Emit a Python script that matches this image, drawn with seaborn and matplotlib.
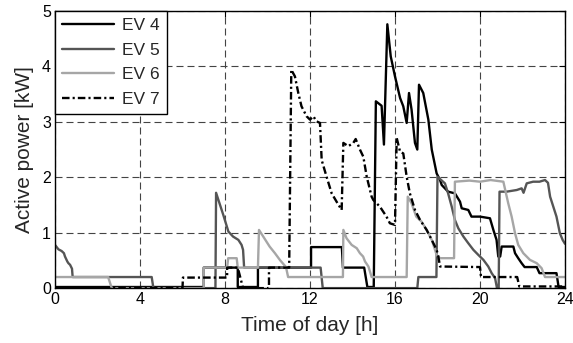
import numpy as np
import pandas as pd
import matplotlib
matplotlib.use("Agg")
import matplotlib.pyplot as plt
import seaborn as sns

# ---- data (time of day [h], active power [kW]) ----
t4 = [0, 7.0, 7.0, 8.6, 8.6, 9.55, 9.55, 12.05, 12.05, 13.5, 13.55, 14.55, 14.7, 15.0, 15.1,
      15.37, 15.48, 15.64, 15.8, 16.0, 16.24, 16.39, 16.55, 16.66, 16.78, 16.94, 17.05, 17.13,
      17.33, 17.57, 17.73, 17.96, 18.12, 18.2, 18.5, 18.82, 19.06, 19.14, 19.45, 19.6, 20.0,
      20.47, 20.63, 20.78, 20.86, 20.95, 21.02, 21.57, 21.65, 21.8, 21.96, 22.1, 22.67, 22.8,
      23.6, 23.7, 24.0]
v4 = [0.02, 0.02, 0.37, 0.37, 0.02, 0.02, 0.37, 0.37, 0.74, 0.74, 0.37, 0.37, 0.02, 0.02, 3.37,
      3.29, 2.59, 4.76, 4.18, 3.82, 3.43, 3.28, 2.98, 3.52, 3.22, 2.62, 2.50, 3.67,
      3.52, 3.04, 2.50, 2.07, 1.95, 1.86, 1.74, 1.71, 1.56, 1.44, 1.41, 1.29, 1.29,
      1.26, 1.05, 0.87, 0.57, 0.57, 0.75, 0.75, 0.63, 0.54, 0.45, 0.38, 0.38, 0.27,
      0.27, 0.02, 0.02]

t5 = [0, 0.16, 0.31, 0.42, 0.47, 0.58, 0.63, 0.71, 0.8, 0.83, 4.55, 4.63, 7.55, 7.58, 7.92,
      8.16, 8.38, 8.63, 8.78, 8.85, 8.9, 12.5, 12.6, 17.05, 17.1, 17.95, 18.0, 18.35, 18.5,
      18.67, 18.82, 18.98, 19.22, 19.45, 19.69, 19.92, 20.16, 20.39, 20.55, 20.71, 20.8, 20.88,
      20.92, 21.25, 21.73, 21.96, 22.05, 22.2, 22.5, 22.8, 23.06, 23.2, 23.3, 23.45, 23.6,
      23.76, 23.89, 24.0]
v5 = [0.78, 0.70, 0.67, 0.63, 0.57, 0.48, 0.45, 0.42, 0.35, 0.2, 0.2, 0.0, 0.0, 1.72, 1.32,
      1.02, 0.93, 0.87, 0.78, 0.69, 0.37, 0.37, 0.0, 0.0, 0.2, 0.2, 2.01, 1.89, 1.71,
      1.47, 1.23, 1.08, 0.93, 0.81, 0.69, 0.6, 0.51, 0.39, 0.27, 0.18, 0.0, 0.0,
      1.74, 1.74, 1.77, 1.8, 1.72, 1.89, 1.92, 1.92, 1.95, 1.9, 1.65, 1.47, 1.29,
      0.99, 0.87, 0.8]

t6 = [0, 2.5, 2.67, 7.0, 7.0, 8.1, 8.15, 8.55, 8.6, 9.55, 9.6, 9.8, 10.1, 10.35, 10.6, 10.87,
      10.97, 13.55, 13.57, 13.72, 13.96, 14.2, 14.35, 14.5, 14.59, 14.75, 14.9, 16.55, 16.6,
      16.78, 17.0, 17.25, 17.49, 17.73, 17.96, 18.12, 18.78, 18.82, 19.5, 20.0, 20.5, 21.1,
      21.33, 21.49, 21.65, 21.8, 22.04, 22.35, 22.67, 22.9, 23.06, 24.0]
v6 = [0.2, 0.2, 0.0, 0.0, 0.37, 0.37, 0.54, 0.54, 0.37, 0.37, 1.05, 0.93, 0.75, 0.63, 0.5, 0.38,
      0.2, 0.2, 1.05, 0.9, 0.78, 0.72, 0.63, 0.57, 0.48, 0.39, 0.2, 0.2, 1.65,
      1.53, 1.29, 1.2, 1.05, 0.87, 0.6, 0.54, 0.54, 1.92, 1.94, 1.92, 1.95, 1.92,
      1.53, 1.29, 0.99, 0.78, 0.63, 0.51, 0.45, 0.36, 0.2, 0.2]

t7 = [0, 6.0, 6.02, 8.1, 8.1, 8.6, 8.85, 10.07, 10.07, 11.02, 11.12, 11.29, 11.45, 11.6, 11.84,
      12.0, 12.16, 12.3, 12.47, 12.55, 12.78, 13.02, 13.25, 13.49, 13.57, 13.8, 14.04, 14.15,
      14.35, 14.51, 14.67, 14.9, 14.98, 15.29, 15.6, 15.76, 16.0, 16.08, 16.24, 16.39, 16.55,
      16.7, 16.94, 17.18, 17.49, 17.73, 17.96, 18.04, 18.12, 20.0, 20.05, 21.75, 21.85, 24.0]
v7 = [0, 0, 0.19, 0.19, 0.37, 0.37, 0.0, 0.0, 0.37, 0.37, 3.94, 3.82, 3.52, 3.28, 3.10,
      3.04, 3.10, 3.01, 2.98, 2.31, 2.01, 1.71, 1.56, 1.41, 2.62, 2.56, 2.62, 2.69,
      2.50, 2.37, 2.01, 1.65, 1.59, 1.47, 1.29, 1.17, 1.14, 2.71, 2.46, 2.43, 2.01,
      1.71, 1.41, 1.23, 1.05, 0.87, 0.69, 0.57, 0.39, 0.38, 0.2, 0.2, 0.03, 0.03]

labels = ["EV 4", "EV 5", "EV 6", "EV 7"]
x_ticks = [0, 4, 8, 12, 16, 20, 24]
y_ticks = [0, 1, 2, 3, 4, 5]

series = [(t4, v4), (t5, v5), (t6, v6), (t7, v7)]
colors = ["#000000", "#555555", "#a6a6a6", "#000000"]
styles = ["-", "-", "-", (0, (3.2, 1.3, 0.9, 1.3))]

sns.set_style("white")
plt.rcParams["font.family"] = ["Liberation Sans", "DejaVu Sans"]

fig = plt.figure(figsize=(5.73, 3.43), dpi=100)
ax = fig.add_axes([0.096, 0.160, 0.890, 0.808])

for (t, v), lab, c, ls in zip(series, labels, colors, styles):
    df = pd.DataFrame({"t": t, "p": v})
    sns.lineplot(data=df, x="t", y="p", ax=ax, estimator=None, sort=False,
                 color=c, linestyle=ls, linewidth=1.7, label=lab)

ax.set_xlim(0, 24)
ax.set_ylim(0, 5)
ax.set_xticks(x_ticks)
ax.set_yticks(y_ticks)
ax.grid(True, color="#444444", linestyle=(0, (6.3, 3.6)), linewidth=0.8)
ax.set_axisbelow(True)
for s in ax.spines.values():
    s.set_color("black")
    s.set_linewidth(1.0)
    s.set_visible(True)
ax.tick_params(direction="in", length=4, width=0.8, top=True, right=True,
               labelsize=11.5, pad=3, colors="black")
ax.set_xlabel("Time of day [h]", fontsize=15, labelpad=6)
ax.set_ylabel("Active power [kW]", fontsize=15, labelpad=6)

leg = ax.legend(loc="upper left", borderaxespad=0, fontsize=12.5, handlelength=3.0,
                handletextpad=0.45, labelspacing=0.55, borderpad=0.4,
                fancybox=False, framealpha=1, edgecolor="black")
leg.get_frame().set_linewidth(1.0)

fig.savefig("out.png", dpi=100)
